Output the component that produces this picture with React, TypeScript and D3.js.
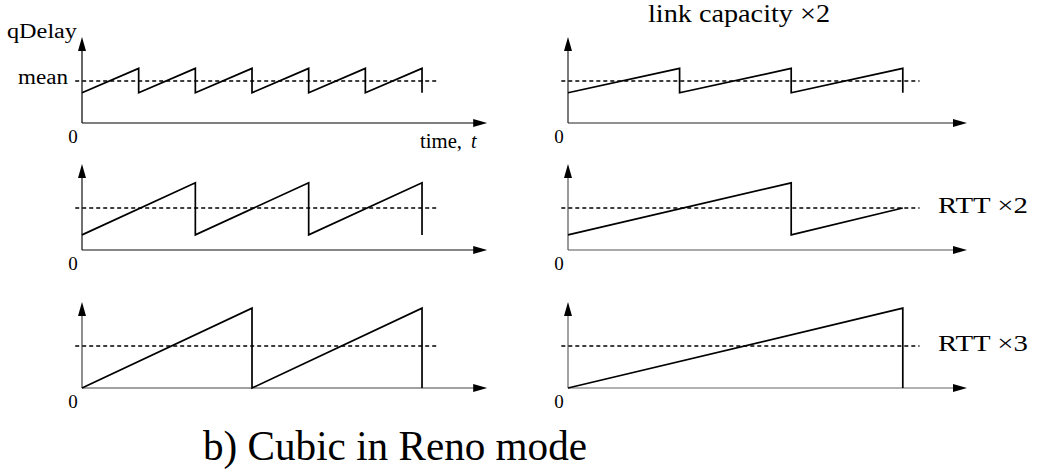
import * as d3 from "d3";

// queue delay in units of the mean, time in units of one base period
const meanQ = 1;
const meanSpan: [number, number] = [-0.12, 6.3];
const tAxisEnd = 7.15;
const qAxisTop = 2.05;

const sawTopLeft: [number, number][] = [
  [0, 0.72], [1, 1.3], [1, 0.72], [2, 1.3], [2, 0.72], [3, 1.3], [3, 0.72],
  [4, 1.3], [4, 0.72], [5, 1.3], [5, 0.72], [6, 1.3], [6, 0.72],
];
const sawTopRight: [number, number][] = [
  [0, 0.72], [2, 1.3], [2, 0.72], [4, 1.3], [4, 0.72], [6, 1.3], [6, 0.72],
];
const sawMidLeft: [number, number][] = [
  [0, 0.36], [2, 1.6], [2, 0.36], [4, 1.6], [4, 0.36], [6, 1.6], [6, 0.36],
];
const sawMidRight: [number, number][] = [
  [0, 0.36], [4, 1.6], [4, 0.36], [6, 1.0],
];
const sawBotLeft: [number, number][] = [
  [0, 0], [3, 1.9], [3, 0], [6, 1.9], [6, 0],
];
const sawBotRight: [number, number][] = [
  [0, 0], [6, 1.9], [6, 0],
];

const panelNotes = ["", "link capacity ×2", "", "RTT ×2", "", "RTT ×3"];
const caption = "b) Cubic in Reno mode";

const SERIF = "'Liberation Serif', 'Times New Roman', serif";

// layout of the six small panels
const cols = [
  { x0: 82, ppu: 56.67 },
  { x0: 568, ppu: 55.8 },
];
const rowBase = [123, 250, 388];

const panels = [
  { col: 0, row: 0, data: sawTopLeft, axis: "#000" },
  { col: 1, row: 0, data: sawTopRight, axis: "#222" },
  { col: 0, row: 1, data: sawMidLeft, axis: "#111" },
  { col: 1, row: 1, data: sawMidRight, axis: "#555" },
  { col: 0, row: 2, data: sawBotLeft, axis: "#444" },
  { col: 1, row: 2, data: sawBotRight, axis: "#666" },
];

const Panel = ({ p, note }: { p: any; note: string }) => {
  const c = cols[p.col];
  const base = rowBase[p.row];
  const x = d3.scaleLinear().domain([0, 6]).range([c.x0, c.x0 + 6 * c.ppu]);
  const y = d3.scaleLinear().domain([0, 1]).range([base, base - 42]);
  const line = d3.line<[number, number]>().x(d => x(d[0])).y(d => y(d[1]));

  const top = y(qAxisTop);
  const right = x(tAxisEnd);
  const x0 = x(0);

  return (
    <g>
      {/* axes with arrow heads */}
      <line x1={x0} y1={base} x2={x0} y2={top + 6} stroke={p.axis} strokeWidth={1.2} />
      <line x1={x0} y1={base} x2={right - 6} y2={base} stroke={p.axis} strokeWidth={1.2} />
      <path d={`M${x0},${top} L${x0 - 4},${top + 14} L${x0 + 4},${top + 14} Z`} fill="#000" />
      <path d={`M${right},${base} L${right - 14},${base - 4} L${right - 14},${base + 4} Z`} fill="#000" />

      {/* mean level */}
      <line
        x1={x(meanSpan[0])} x2={x(meanSpan[1])}
        y1={y(meanQ)} y2={y(meanQ)}
        stroke="#000" strokeWidth={1.3} strokeDasharray="4,3"
      />

      {/* sawtooth */}
      <path d={line(p.data) || ""} fill="none" stroke="#000" strokeWidth={1.7} strokeLinejoin="miter" />

      <text x={x0 - 9} y={base + 20} fontSize={19} textAnchor="middle">0</text>

      {p.col === 0 && p.row === 0 && (
        <g>
          <text x={7} y={38} fontSize={20} textLength={70} lengthAdjust="spacingAndGlyphs">qDelay</text>
          <text x={18} y={84} fontSize={20} textLength={50} lengthAdjust="spacingAndGlyphs">mean</text>
          <text x={420} y={148} fontSize={20} textLength={42} lengthAdjust="spacingAndGlyphs">time,</text>
          <text x={471} y={148} fontSize={20} fontStyle="italic">t</text>
        </g>
      )}
      {note && p.row === 0 && (
        <text x={648} y={22} fontSize={25} textLength={182} lengthAdjust="spacingAndGlyphs">{note}</text>
      )}
      {note && p.row > 0 && (
        <text x={938} y={y(meanQ) + 5} fontSize={24} textLength={90} lengthAdjust="spacingAndGlyphs">{note}</text>
      )}
    </g>
  );
};

export default function App() {
  return (
    <svg
      width={1052}
      height={475}
      style={{ position: "absolute", left: 0, top: 0, background: "#fff" }}
      fontFamily={SERIF}
    >
      <rect width={1052} height={475} fill="#fff" />
      {panels.map((p, i) => (
        <Panel key={i} p={p} note={panelNotes[i]} />
      ))}
      <text x={203} y={460} fontSize={42} textLength={384} lengthAdjust="spacingAndGlyphs">{caption}</text>
    </svg>
  );
}
